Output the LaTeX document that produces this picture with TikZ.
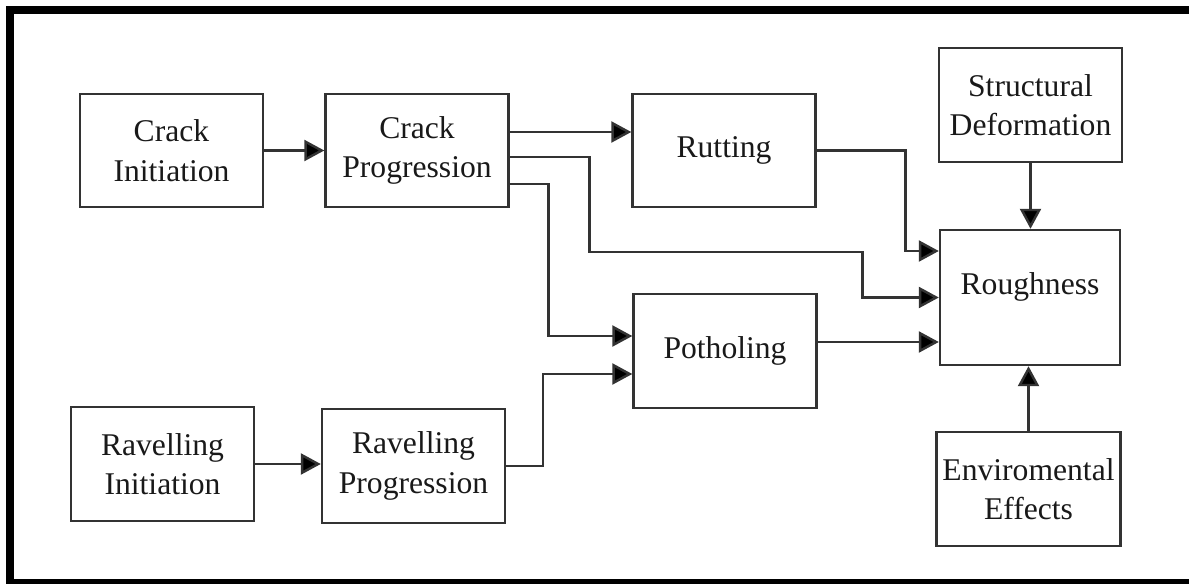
\documentclass[tikz,border=0pt]{standalone}
\usepackage{fontspec}
\setmainfont{Liberation Serif}
\usetikzlibrary{arrows.meta}
\begin{document}
\begin{tikzpicture}[x=0.02cm, y=-0.02cm,
                    box/.style={draw=black!80, line width=1.4pt, align=center, minimum width=3.66cm, minimum height=2.27cm, font=\fontsize{18pt}{22.5pt}\selectfont, text=black!90},
                    link/.style={draw=black!80, line width=1.4pt, -{Triangle[length=0.4cm, width=0.42cm, fill=black]}}]
\useasboundingbox (0,0) rectangle (1189,584);
\clip (0,0) rectangle (1189,584);
\draw[line width=0.17cm] (10,10) rectangle (1210,583);

\node[box] (ci) at (171.5,150.5) {Crack\\Initiation};
\node[box] (cp) at (417,150.5) {Crack\\Progression};
\node[box] (rut) at (724,150.5) {Rutting};
\node[box] (pot) at (725,351) {Potholing};
\node[box, minimum width=3.6cm, minimum height=2.7cm] (rough) at (1030,297.5) {\raisebox{0.55cm}{Roughness}};
\node[box] (sd) at (1030.5,105) {Structural\\Deformation};
\node[box] (env) at (1028.5,489) {Enviromental\\Effects};
\node[box] (ri) at (162.5,464) {Ravelling\\Initiation};
\node[box] (rp) at (413.5,466) {Ravelling\\Progression};

\coordinate (p1) at ([yshift=0.18cm]pot.east);

\draw[link] (ci.east) -- (cp.west);
\draw[link] ([yshift=0.37cm]cp.east) -- ([yshift=0.37cm]rut.west);
\draw[link] ([yshift=-0.13cm]cp.east) -- ++(80,0) -- ++(0,95) -- ++(273,0) |- (rough.west);
\draw[link] ([yshift=-0.67cm]cp.east) -- ++(39,0) |- ([yshift=0.3cm]pot.west);
\draw[link] (rut.east) -- ++(89,0) |- ([yshift=0.93cm]rough.west);
\draw[link] (p1) -- (p1 -| rough.west);
\draw[link] (rp.east) -- ++(37,0) |- ([yshift=-0.46cm]pot.west);
\draw[link] (ri.east) -- (ri.east -| rp.west);
\draw[link] (sd.south) -- (sd.south |- rough.north);
\draw[link] (env.north) -- (env.north |- rough.south);
\end{tikzpicture}
\end{document}
